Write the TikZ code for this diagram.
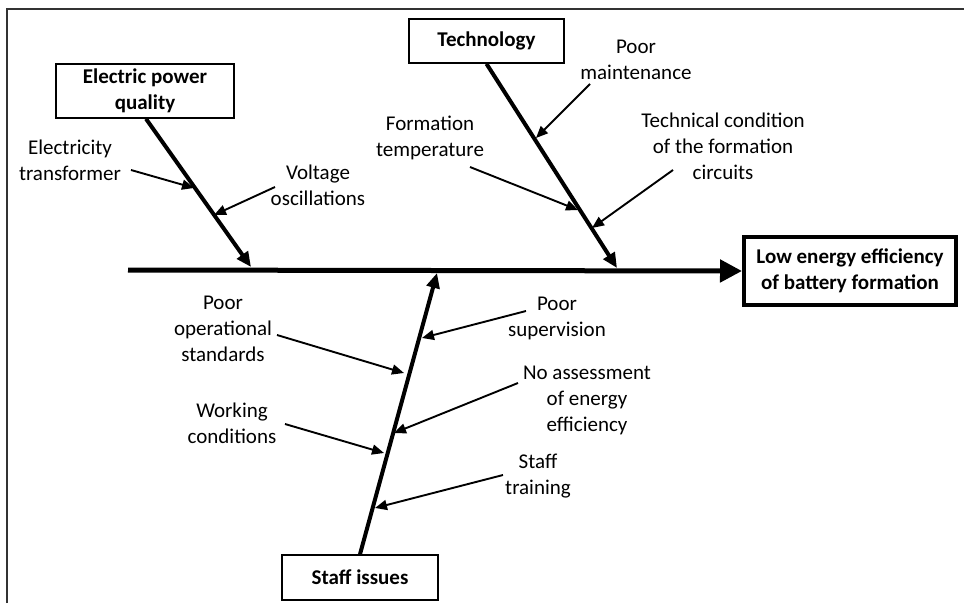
\documentclass[tikz,border=0pt]{standalone}
\usepackage{fontspec}
\setmainfont{Carlito}
\usetikzlibrary{arrows.meta}
\begin{document}
\begin{tikzpicture}[x=1pt,y=-1pt,
  lbl/.style={font=\fontsize{21}{26}\selectfont, align=center, inner sep=0pt},
  cat/.style={draw, line width=1.6pt, font=\fontsize{21}{26}\selectfont\bfseries, align=center, inner sep=0pt},
  spine/.style={line width=5pt, -{Triangle[length=22pt,width=22pt]}},
  bone/.style={line width=4pt, -{Triangle[length=15pt,width=13pt]}},
  cause/.style={line width=1.9pt, -{Triangle[length=12pt,width=10pt]}},
  frame/.style={line width=1.6pt, draw=black!80}
]
\useasboundingbox (0,0) rectangle (964,603);
% frame
\coordinate (f1) at (7,603);
\coordinate (f2) at (7,9);
\coordinate (f3) at (964,9);
\draw[frame] (f1) -- (f2) -- (f3);

% effect
\node[cat, line width=4pt, minimum width=212pt, minimum height=68pt] (effect) at (850,271) {Low energy efficiency\\of battery formation};
\coordinate (sstart) at (128,270);
\draw[spine] (sstart) -- (effect.west);

% categories
\node[cat, minimum width=178pt, minimum height=54pt] (epq) at (145,91) {Electric power\\quality};
\node[cat, minimum width=155pt, minimum height=44pt] (tech) at (486.5,41) {Technology};
\node[cat, minimum width=156pt, minimum height=45pt] (staff) at (360,577.5) {Staff issues};

\coordinate (epqtip) at (251,267);
\coordinate (techtip) at (617,268);
\coordinate (stafftip) at (437,273);
\draw[bone] (epq.south -| 146,0) -- (epqtip);
\draw[bone] (tech.south) -- (techtip);
\draw[bone] (staff.north) -- (stafftip);

% causes - electric power quality
\node[lbl] (et) at (70,160) {Electricity\\transformer};
\coordinate (et1) at (131,170); \coordinate (et2) at (194,188);
\draw[cause] (et1) -- (et2);
\node[lbl] (vo) at (318,185) {Voltage\\oscillations};
\coordinate (vo1) at (275,187); \coordinate (vo2) at (214,215);
\draw[cause] (vo1) -- (vo2);

% causes - technology
\node[lbl] (pm) at (636,60) {Poor\\maintenance};
\coordinate (pm1) at (590,84); \coordinate (pm2) at (536,138);
\draw[cause] (pm1) -- (pm2);
\node[lbl] (ft) at (430,138) {Formation\\temperature};
\coordinate (ft1) at (470,167); \coordinate (ft2) at (578,210);
\draw[cause] (ft1) -- (ft2);
\node[lbl] (tc) at (723,146) {Technical condition\\of the formation\\circuits};
\coordinate (tc1) at (673,170); \coordinate (tc2) at (592,228);
\draw[cause] (tc1) -- (tc2);

% causes - staff
\node[lbl] (pos) at (223,329) {Poor\\operational\\standards};
\coordinate (pos1) at (277,335); \coordinate (pos2) at (404,373);
\draw[cause] (pos1) -- (pos2);
\node[lbl] (wc) at (232,423) {Working\\conditions};
\coordinate (wc1) at (285,424); \coordinate (wc2) at (384,453);
\draw[cause] (wc1) -- (wc2);
\node[lbl] (ps) at (557,318) {Poor\\supervision};
\coordinate (ps1) at (526,311); \coordinate (ps2) at (422,338);
\draw[cause] (ps1) -- (ps2);
\node[lbl] (na) at (587,400) {No assessment\\of energy\\efficiency};
\coordinate (na1) at (518,383); \coordinate (na2) at (394,433);
\draw[cause] (na1) -- (na2);
\node[lbl] (st) at (538,476) {Staff\\training};
\coordinate (st1) at (503,475); \coordinate (st2) at (375,508);
\draw[cause] (st1) -- (st2);
\end{tikzpicture}
\end{document}
